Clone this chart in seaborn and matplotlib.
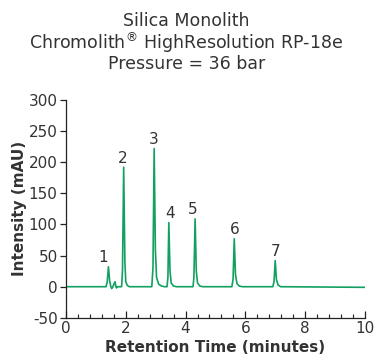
import matplotlib
matplotlib.use("Agg")
import matplotlib.pyplot as plt
import seaborn as sns
import pandas as pd
from matplotlib.ticker import MultipleLocator

# chromatogram trace (minutes, mAU)
TIME = [0.00, 1.34, 1.38, 1.42, 1.46, 1.50, 1.53, 1.56, 1.60, 1.64, 1.67, 1.69, 1.72,
        1.86, 1.89, 1.93, 1.97, 2.00, 2.05, 2.12,
        2.87, 2.91, 2.95, 2.99, 3.03, 3.10, 3.20, 3.30,
        3.38, 3.41, 3.44, 3.48, 3.52, 3.60, 3.70,
        4.25, 4.28, 4.32, 4.36, 4.40, 4.48, 4.58,
        5.55, 5.59, 5.63, 5.67, 5.72, 5.80, 5.90,
        6.92, 6.96, 7.00, 7.04, 7.09, 7.18, 10.00]
INTENSITY = [0, 0, 8, 32, 10, 0, -3, -1, 4, 8, 0, -2, 0,
             0, 25, 192, 40, 8, 2, 0,
             0, 30, 222, 60, 15, 4, 1, 0,
             0, 15, 103, 25, 6, 1, 0,
             0, 15, 109, 25, 6, 1, 0,
             0, 12, 77, 20, 5, 1, 0,
             0, 8, 42, 12, 3, 0, -1]

PEAK_LABELS = ["1", "2", "3", "4", "5", "6", "7"]
PEAK_TIMES = [1.42, 1.93, 2.95, 3.44, 4.32, 5.63, 7.00]
PEAK_HEIGHTS = [32, 192, 222, 103, 109, 77, 42]

TITLE = "Silica Monolith\nChromolith$^{\\circledR}$ HighResolution RP-18e\nPressure = 36 bar"

LINE_COLOR = "#12a060"
TEXT_COLOR = "#333333"


def draw():
    sns.set_style("ticks")
    plt.rcParams['font.family'] = ['DejaVu Sans']
    plt.rcParams['axes.unicode_minus'] = False
    df = pd.DataFrame({"time": TIME, "intensity": INTENSITY})

    fig = plt.figure(figsize=(3.75, 3.62), dpi=100)
    ax = fig.add_axes([0.176, 0.122, 0.797, 0.602])
    sns.lineplot(data=df, x="time", y="intensity", sort=False, color=LINE_COLOR,
                 linewidth=1.2, ax=ax)

    label_dx = [-3.5, -1, 0, 1, -2, 0, 0]
    for lab, t, h, dx in zip(PEAK_LABELS, PEAK_TIMES, PEAK_HEIGHTS, label_dx):
        ax.annotate(lab, (t, h), xytext=(dx, 6.5), textcoords="offset points",
                    ha="center", va="center", fontsize=11, color=TEXT_COLOR)

    ax.set_xlim(0, 10)
    ax.set_ylim(-50, 300)
    ax.xaxis.set_major_locator(MultipleLocator(2))
    ax.xaxis.set_minor_locator(MultipleLocator(0.4))
    ax.yaxis.set_major_locator(MultipleLocator(50))
    sns.despine(ax=ax)
    for s in ["left", "bottom"]:
        ax.spines[s].set_color("#222222")
        ax.spines[s].set_linewidth(0.9)

    ax.tick_params(axis="x", which="major", direction="in", length=5, width=0.9,
                   pad=2, labelsize=11, labelcolor=TEXT_COLOR, color="#222222")
    ax.tick_params(axis="x", which="minor", direction="in", length=3, width=0.8,
                   color="#222222")
    ax.tick_params(axis="y", direction="out", length=4, width=0.9, pad=2,
                   labelsize=11, labelcolor=TEXT_COLOR, color="#222222")

    ax.set_xlabel("Retention Time (minutes)", fontsize=11, fontweight="bold",
                  color=TEXT_COLOR, labelpad=3)
    ax.set_ylabel("Intensity (mAU)", fontsize=11, fontweight="bold",
                  color=TEXT_COLOR, labelpad=1)
    fig.text(0.497, 0.966, TITLE, ha="center", va="top", fontsize=12.5,
             color=TEXT_COLOR, linespacing=1.0)

    fig.savefig("out.png", dpi=100)


if __name__ == "__main__":
    draw()
